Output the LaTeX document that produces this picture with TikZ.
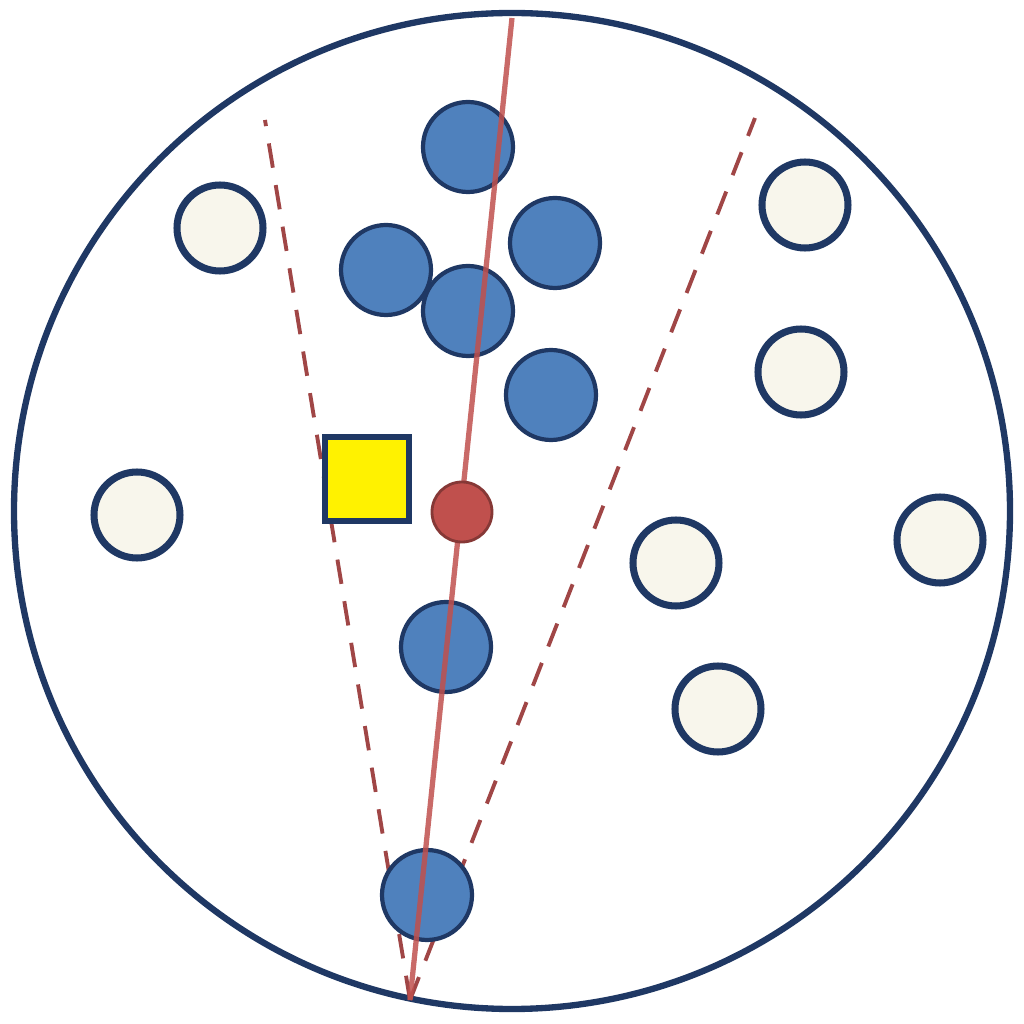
\documentclass[tikz,border=0pt]{standalone}
\usetikzlibrary{positioning}
\definecolor{ringblue}{RGB}{31,56,100}
\definecolor{dotblue}{RGB}{79,129,189}
\definecolor{cream}{RGB}{248,246,236}
\definecolor{linered}{RGB}{192,80,77}
\definecolor{dashred}{RGB}{160,70,70}
\tikzset{
  hit/.style={circle, draw=ringblue, line width=1.2pt, fill=dotblue, minimum size=0.9cm, inner sep=0pt},
  miss/.style={circle, draw=ringblue, line width=2pt, fill=cream, minimum size=0.86cm, inner sep=0pt},
  query/.style={circle, draw=linered!70!black, line width=0.8pt, fill=linered, minimum size=0.6cm, inner sep=0pt},
  probe/.style={draw=ringblue, line width=1.8pt, fill=yellow, minimum size=0.84cm, inner sep=0pt},
  ray/.style={linered, line width=1.5pt, opacity=0.85},
  cone/.style={dashred, line width=1.1pt, dash pattern=on 7pt off 5pt},
}
\begin{document}
\begin{tikzpicture}
    \useasboundingbox (0,0) rectangle (10.24,10.24);
    \draw[ringblue, line width=1.8pt] (5.12,5.13) circle (4.98);
    % cone and axis end points
    \coordinate (apex) at (4.10,0.24);
    \coordinate (top) at (5.12,10.06);
    \coordinate (coneL) at (2.65,9.04);
    \coordinate (coneR) at (7.55,9.06);
    \draw[cone] (apex) -- (coneL);
    \draw[cone] (apex) -- (coneR);
    \node[probe] (sq) at (3.67,5.45) {};
    % points outside the cone
    \node[miss] (m1) at (2.20,7.96) {};
    \node[miss] (m2) at (8.05,8.19) {};
    \node[miss] (m3) at (8.01,6.52) {};
    \node[miss] (m4) at (1.37,5.09) {};
    \node[miss] (m5) at (6.76,4.61) {};
    \node[miss] (m6) at (7.18,3.15) {};
    \node[miss] (m7) at (9.40,4.84) {};
    % points inside the cone
    \node[hit] (h1) at (4.68,8.77) {};
    \node[hit] (h2) at (5.55,7.81) {};
    \node[hit] (h3) at (3.86,7.54) {};
    \node[hit] (h4) at (4.68,7.13) {};
    \node[hit] (h5) at (5.51,6.29) {};
    \node[hit] (h6) at (4.46,3.77) {};
    \node[hit] (h7) at (4.27,1.29) {};
    \draw[ray] (top) -- (apex);
    \node[query] (q) at (4.62,5.12) {};
\end{tikzpicture}
\end{document}
